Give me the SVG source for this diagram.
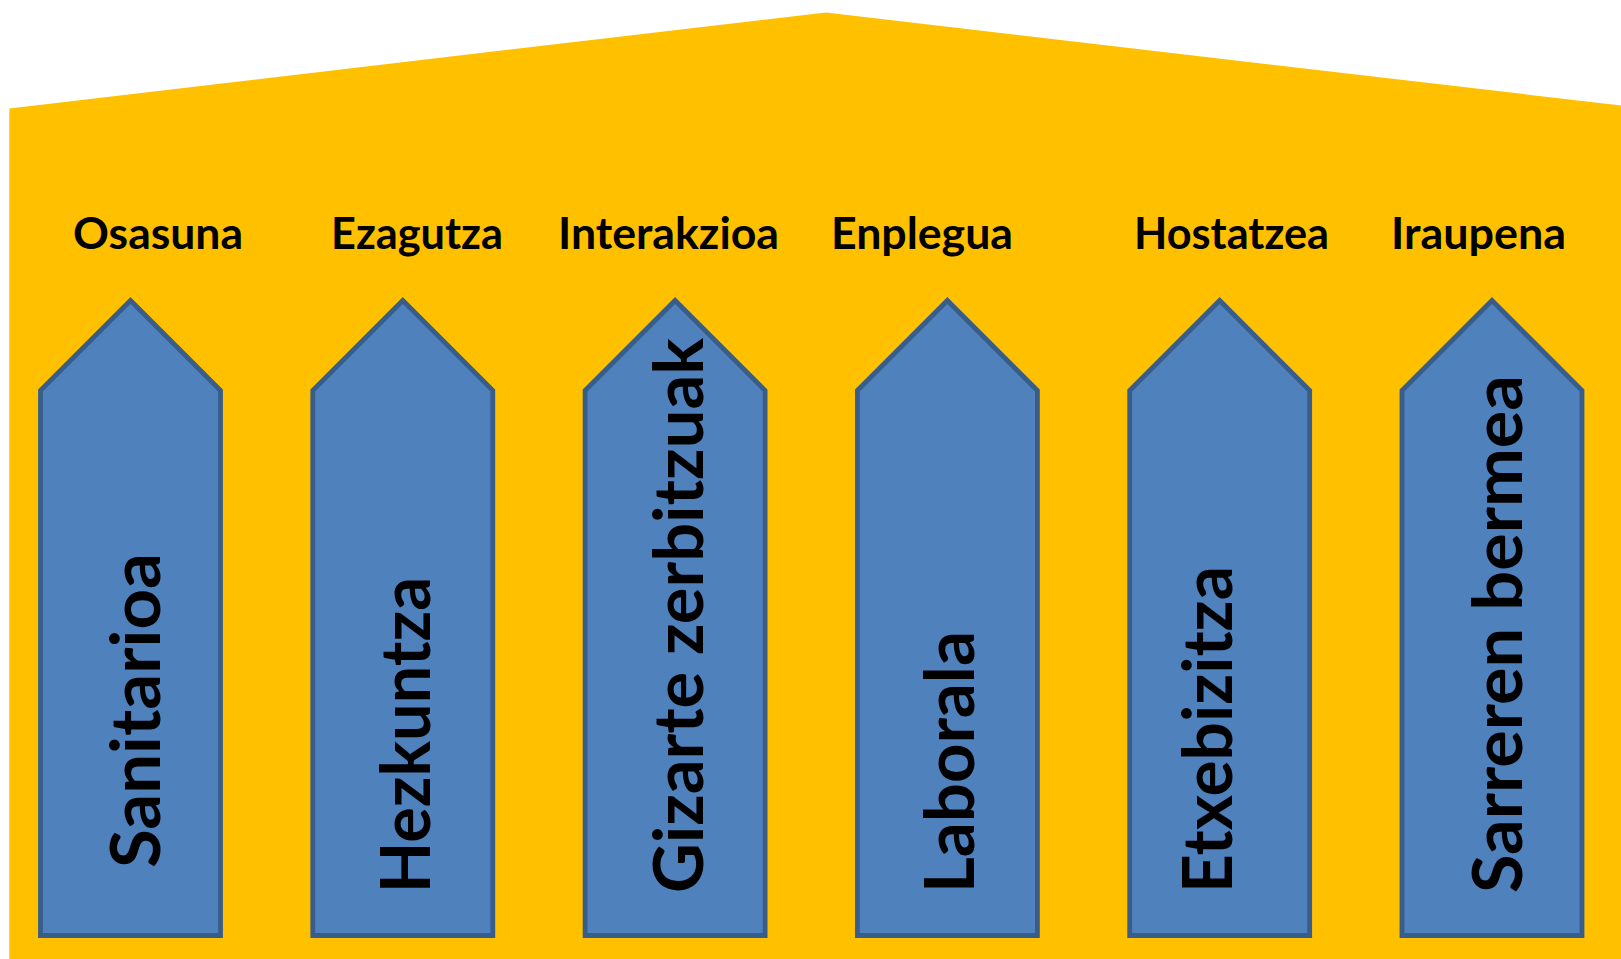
<svg xmlns="http://www.w3.org/2000/svg" width="1621" height="959" viewBox="0 0 1621 959">
<style>
.roof{fill:#FFC000;}
.pillar{fill:#4F81BD;stroke:#385D8A;stroke-width:4.8;stroke-linejoin:miter;}
.cap{font-family:Lato,"Open Sans","Liberation Sans",sans-serif;font-weight:700;font-size:44px;fill:#000;}
.vt{font-family:Lato,"Open Sans","Liberation Sans",sans-serif;font-weight:700;font-size:69px;fill:#000;}
</style>
<defs>
<path id="pil" d="M0,0 L90,90 L90,635 L-90,635 L-90,90 Z"/>
</defs>
<g id="roof">
<polygon class="roof" points="9.3,108.5 826,12.4 1621,105.5 1621,959 9.3,959"/>
</g>
<g id="connectors"></g>
<g id="node-osasuna">
<use href="#pil" class="pillar" x="130.5" y="300.5"/>
<text class="cap" x="73" y="249" textLength="170" lengthAdjust="spacingAndGlyphs">Osasuna</text>
<text class="vt" transform="translate(160,868) rotate(-90)" x="0" y="0" textLength="315" lengthAdjust="spacingAndGlyphs">Sanitarioa</text>
</g>
<g id="node-ezagutza">
<use href="#pil" class="pillar" x="402.8" y="300.5"/>
<text class="cap" x="331" y="249" textLength="172" lengthAdjust="spacingAndGlyphs">Ezagutza</text>
<text class="vt" transform="translate(430,893) rotate(-90)" x="0" y="0" textLength="316" lengthAdjust="spacingAndGlyphs">Hezkuntza</text>
</g>
<g id="node-interakzioa">
<use href="#pil" class="pillar" x="675.1" y="300.5"/>
<text class="cap" x="558" y="249" textLength="221" lengthAdjust="spacingAndGlyphs">Interakzioa</text>
<text class="vt" transform="translate(703,893) rotate(-90)" x="0" y="0" textLength="555" lengthAdjust="spacingAndGlyphs">Gizarte zerbitzuak</text>
</g>
<g id="node-enplegua">
<use href="#pil" class="pillar" x="947.4" y="300.5"/>
<text class="cap" x="831" y="249" textLength="182" lengthAdjust="spacingAndGlyphs">Enplegua</text>
<text class="vt" transform="translate(974,893) rotate(-90)" x="0" y="0" textLength="262" lengthAdjust="spacingAndGlyphs">Laborala</text>
</g>
<g id="node-hostatzea">
<use href="#pil" class="pillar" x="1219.7" y="300.5"/>
<text class="cap" x="1134" y="249" textLength="195" lengthAdjust="spacingAndGlyphs">Hostatzea</text>
<text class="vt" transform="translate(1232,893) rotate(-90)" x="0" y="0" textLength="327" lengthAdjust="spacingAndGlyphs">Etxebizitza</text>
</g>
<g id="node-iraupena">
<use href="#pil" class="pillar" x="1492" y="300.5"/>
<text class="cap" x="1391" y="249" textLength="175" lengthAdjust="spacingAndGlyphs">Iraupena</text>
<text class="vt" transform="translate(1522,893) rotate(-90)" x="0" y="0" textLength="518" lengthAdjust="spacingAndGlyphs">Sarreren bermea</text>
</g>
</svg>
